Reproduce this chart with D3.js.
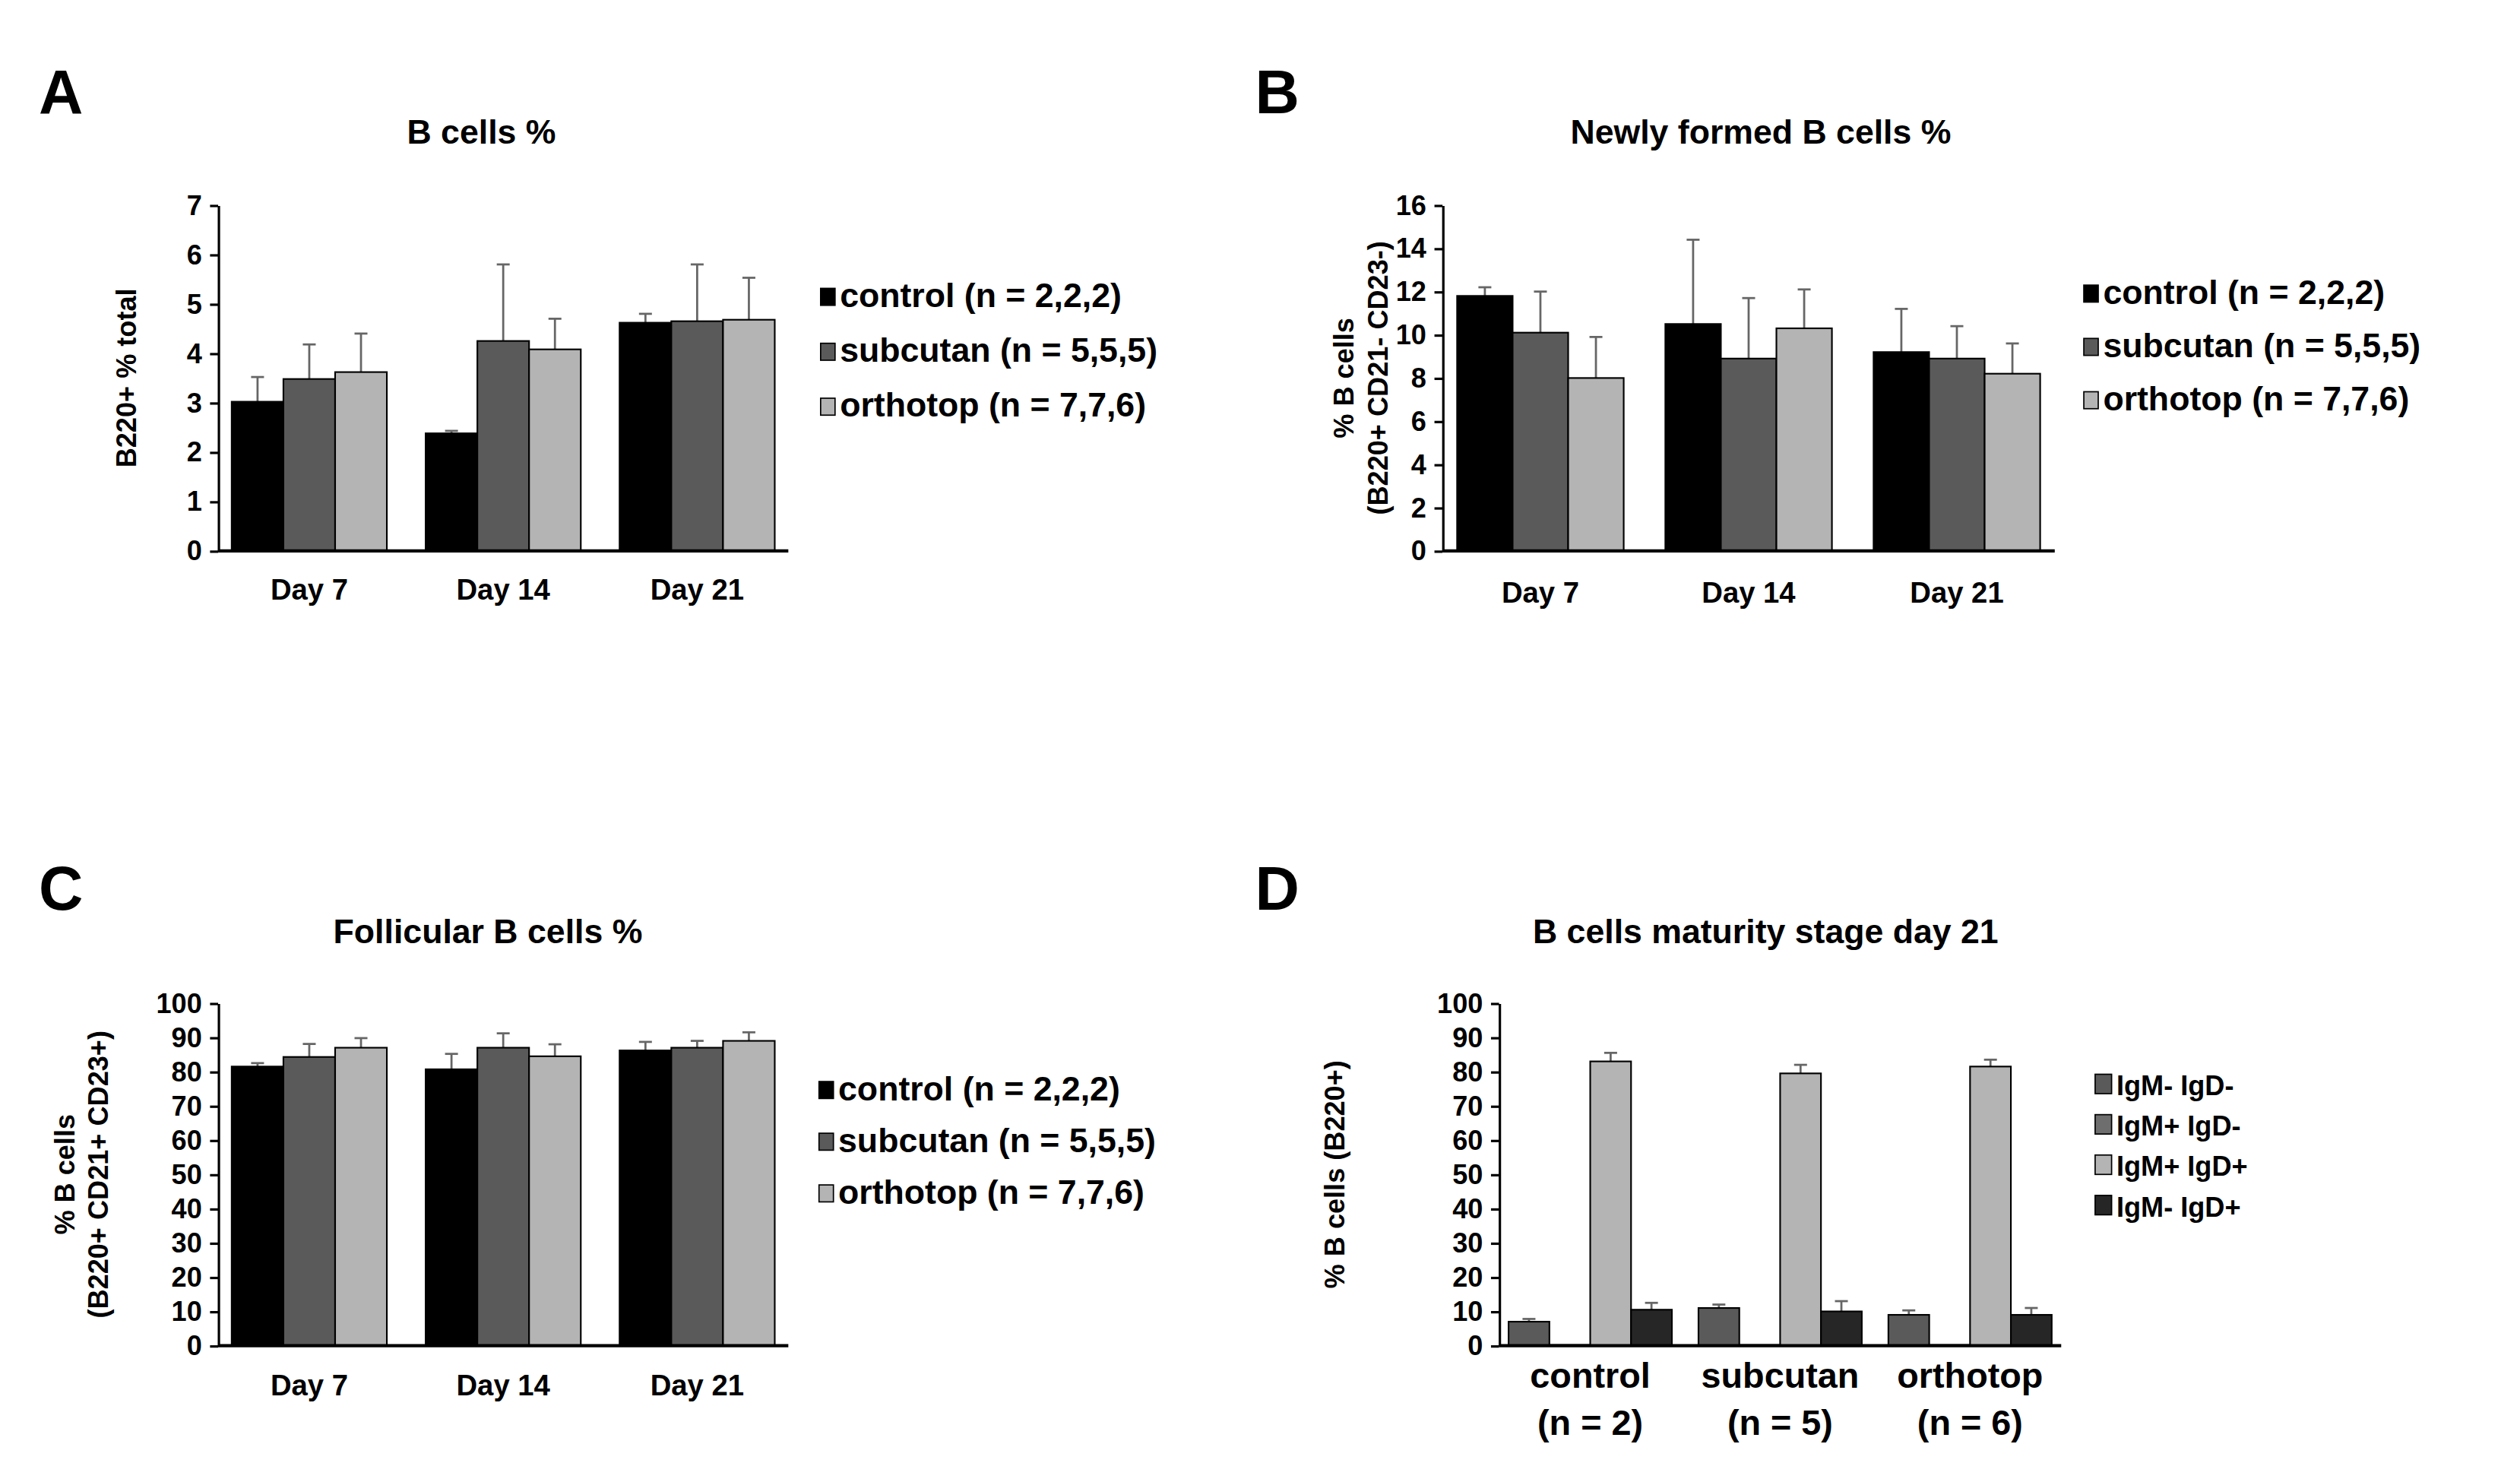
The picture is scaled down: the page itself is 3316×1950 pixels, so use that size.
<!DOCTYPE html>
<html><head><meta charset="utf-8">
<script src="https://cdn.jsdelivr.net/npm/d3@7"></script>
<style>body{margin:0;background:#fff}text{font-family:"Liberation Sans",Arial,sans-serif;font-weight:bold}</style>
</head><body>
<svg id="c" width="3316" height="1950" viewBox="0 0 1560 917.4"></svg>
<script>
const days = ["Day 7","Day 14","Day 21"];
const groups = ["control (n = 2,2,2)","subcutan (n = 5,5,5)","orthotop (n = 7,7,6)"];
const groupColors = ["#000000","#5a5a5a","#b4b4b4"];
const aVals = [[3.02,3.48,3.62],[2.38,4.25,4.08],[4.62,4.65,4.68]];
const aErr  = [[0.5,0.7,0.78],[0.05,1.55,0.62],[0.18,1.15,0.85]];
const bVals = [[11.8,10.1,8.0],[10.5,8.9,10.3],[9.2,8.9,8.2]];
const bErr  = [[0.4,1.9,1.9],[3.9,2.8,1.8],[2.0,1.5,1.4]];
const cVals = [[81.5,84.3,87.0],[80.7,87.0,84.5],[86.2,87.0,89.0]];
const cErr  = [[1.0,3.8,2.8],[4.5,4.2,3.5],[2.5,2.0,2.5]];
const dCats = [["control","(n = 2)"],["subcutan","(n = 5)"],["orthotop","(n = 6)"]];
const dSeries = ["IgM- IgD-","IgM+ IgD-","IgM+ IgD+","IgM- IgD+"];
const dColors = ["#5a5a5a","#6e6e6e","#b4b4b4","#262626"];
const dVals = [[7.0,0.2,83.0,10.5],[11.0,0.2,79.5,10.0],[9.0,0.2,81.5,9.0]];
const dErr  = [[0.8,0,2.5,2.0],[1.0,0,2.5,3.0],[1.3,0,2.0,2.0]];

const svg = d3.select("#c");

function panel(o){
  const g = svg.append("g");
  g.append("text").attr("x",o.letterX).attr("y",o.letterY).attr("font-size",38).text(o.letter);
  g.append("text").attr("x",o.titleX).attr("y",o.titleY).attr("text-anchor","middle").attr("font-size",21).text(o.title);
  const y = d3.scaleLinear().domain([0,o.max]).range([o.y0,o.yTop]);
  const x = d3.scaleBand().domain(o.cats.map((c,i)=>i)).range([o.x0,o.x1]).paddingInner(o.padIn).paddingOuter(o.padOut);
  const xs = d3.scaleBand().domain(o.series.map((s,i)=>i)).range([0,x.bandwidth()]);
  const ya = g.append("g").attr("transform",`translate(${o.x0},0)`)
    .call(d3.axisLeft(y).tickValues(d3.range(0,o.max+0.001,o.step)).tickFormat(d3.format("d")).tickSize(5).tickSizeOuter(0));
  ya.selectAll("text").attr("font-size",17).attr("fill","#000").attr("dx",-2);
  ya.selectAll("line,path").attr("stroke","#000").attr("stroke-width",1.5);
  o.vals.forEach((row,i)=>{
    row.forEach((v,j)=>{
      const bx = x(i)+xs(j), bw = xs.bandwidth();
      const e = o.err[i][j];
      if(e>0){
        g.append("line").attr("x1",bx+bw/2).attr("x2",bx+bw/2).attr("y1",y(v)).attr("y2",y(v+e)).attr("stroke","#666").attr("stroke-width",1.3);
        g.append("line").attr("x1",bx+bw/2-4).attr("x2",bx+bw/2+4).attr("y1",y(v+e)).attr("y2",y(v+e)).attr("stroke","#666").attr("stroke-width",1.3);
      }
      g.append("rect").attr("x",bx).attr("y",y(v)).attr("width",bw).attr("height",y(0)-y(v))
        .attr("fill",o.colors[j]).attr("stroke","#000").attr("stroke-width",1);
    });
  });
  g.append("line").attr("x1",o.x0).attr("x2",o.x1).attr("y1",o.y0).attr("y2",o.y0).attr("stroke","#000").attr("stroke-width",2);
  o.cats.forEach((c,i)=>{
    const lines = Array.isArray(c)?c:[c];
    lines.forEach((t,k)=>g.append("text").attr("x",x(i)+x.bandwidth()/2).attr("y",o.catY+k*o.catLH)
      .attr("text-anchor","middle").attr("font-size",o.catFS).text(t));
  });
  o.ylab.forEach((t,k)=>g.append("text")
    .attr("transform",`translate(${o.ylabX+k*21},${(o.y0+o.yTop)/2}) rotate(-90)`)
    .attr("text-anchor","middle").attr("font-size",17).text(t));
  o.series.forEach((s,j)=>{
    const ly = o.legY + j*o.legDY;
    const sq = o.legSq || o.legFS*0.5;
    g.append("rect").attr("x",o.legX).attr("y",ly-sq-1).attr("width",sq*0.85).attr("height",sq)
      .attr("fill",o.colors[j]).attr("stroke","#000").attr("stroke-width",0.8);
    g.append("text").attr("x",o.legX+sq*0.85+3).attr("y",ly).attr("font-size",o.legFS).text(s);
  });
}

const common = {series:groups,colors:groupColors,padIn:0.2,padOut:0.07,catFS:18,catLH:0,legFS:21};
panel(Object.assign({},common,{letter:"A",letterX:24,letterY:70,title:"B cells %",titleX:298,titleY:89,
  x0:135,x1:488,y0:341,yTop:127,max:7,step:1,cats:days,vals:aVals,err:aErr,catY:371,
  ylab:["B220+ % total"],ylabX:84,legX:508,legY:190,legDY:34}));
panel(Object.assign({},common,{letter:"B",letterX:777,letterY:70,title:"Newly formed B cells %",titleX:1090,titleY:89,
  x0:893,x1:1272,y0:341,yTop:127,max:16,step:2,cats:days,vals:bVals,err:bErr,catY:373,
  ylab:["% B cells","(B220+ CD21- CD23-)"],ylabX:838,legX:1290,legY:188,legDY:33}));
panel(Object.assign({},common,{letter:"C",letterX:24,letterY:563,title:"Follicular B cells %",titleX:302,titleY:584,
  x0:135,x1:488,y0:833,yTop:621,max:100,step:10,cats:days,vals:cVals,err:cErr,catY:864,
  ylab:["% B cells","(B220+ CD21+ CD23+)"],ylabX:46,legX:507,legY:681,legDY:32}));
panel({letter:"D",letterX:777,letterY:563,title:"B cells maturity stage day 21",titleX:1093,titleY:584,
  x0:928,x1:1276,y0:833,yTop:621,max:100,step:10,cats:dCats,vals:dVals,err:dErr,catY:859,catLH:29,catFS:22,
  series:dSeries,colors:dColors,padIn:0.14,padOut:0.05,
  ylab:["% B cells (B220+)"],ylabX:832,legX:1297,legY:678,legDY:25,legFS:17,legSq:12});
</script>
</body></html>
